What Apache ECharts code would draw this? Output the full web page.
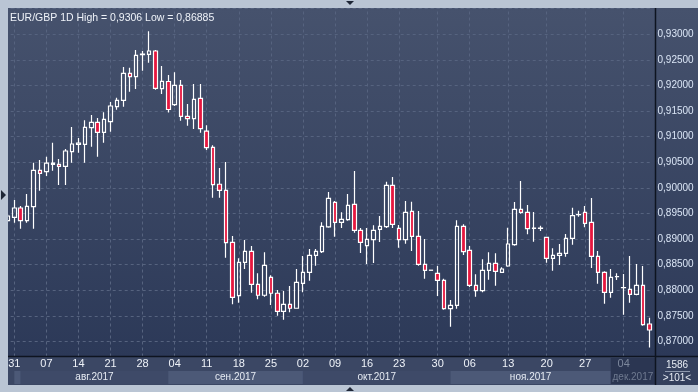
<!DOCTYPE html>
<html>
<head>
<meta charset="utf-8">
<script src="https://cdn.jsdelivr.net/npm/echarts@6/dist/echarts.min.js"></script>
<style>
  html, body { margin: 0; padding: 0; background: #bac5d4; }
  #chart { width: 698px; height: 392px; }
</style>
</head>
<body>
<div id="chart"></div>
<script>
// EUR/GBP daily candles, 28.07.2017 - 08.12.2017 (Sunday candles appear after the DST switch)
const dates = ['28.07','31.07','01.08','02.08','03.08','04.08','07.08','08.08','09.08','10.08','11.08',
  '14.08','15.08','16.08','17.08','18.08','21.08','22.08','23.08','24.08','25.08','28.08','29.08','30.08','31.08',
  '01.09','04.09','05.09','06.09','07.09','08.09','11.09','12.09','13.09','14.09','15.09','18.09','19.09','20.09',
  '21.09','22.09','25.09','26.09','27.09','28.09','29.09','02.10','03.10','04.10','05.10','06.10','09.10','10.10',
  '11.10','12.10','13.10','16.10','17.10','18.10','19.10','20.10','23.10','24.10','25.10','26.10','27.10','29.10',
  '30.10','31.10','01.11','02.11','03.11','06.11','07.11','08.11','09.11','10.11','12.11','13.11','14.11','15.11',
  '16.11','17.11','19.11','20.11','21.11','22.11','23.11','24.11','26.11','27.11','28.11','29.11','30.11','01.12',
  '03.12','04.12','05.12','06.12','07.12','08.12'];

const opens = [
  0.89359, 0.89426, 0.89608, 0.89359, 0.89633, 0.90344, 0.90317, 0.90461, 0.90461, 0.90422,
  0.90707, 0.90852, 0.90852, 0.91176, 0.91281, 0.91086, 0.91293, 0.91586, 0.91711, 0.92238,
  0.92172, 0.92602, 0.92609, 0.92674, 0.91938, 0.92078, 0.91625, 0.92004, 0.91399, 0.91352,
  0.91750, 0.91111, 0.90793, 0.90071, 0.89953, 0.88938, 0.87895, 0.88547, 0.88762, 0.88117,
  0.87903, 0.88254, 0.87942, 0.87590, 0.87727, 0.87649, 0.88137, 0.88352, 0.88684, 0.88754,
  0.89237, 0.89719, 0.89328, 0.89379, 0.89680, 0.89172, 0.88871, 0.88988, 0.89191, 0.89242,
  0.90051, 0.89211, 0.88988, 0.89543, 0.89055, 0.88508, 0.88391, 0.88332, 0.88195, 0.87641,
  0.87707, 0.89250, 0.88781, 0.88098, 0.87992, 0.88391, 0.88527, 0.88352, 0.88475, 0.88891,
  0.89582, 0.89524, 0.89211, 0.89211, 0.89035, 0.88625, 0.88684, 0.88723, 0.89016, 0.89477,
  0.89524, 0.89328, 0.88664, 0.88352, 0.87961, 0.88266, 0.88051, 0.88020, 0.87922, 0.88098,
  0.87342
];
const closes = [
  0.89451, 0.89608, 0.89359, 0.89641, 0.90344, 0.90285, 0.90486, 0.90486, 0.90422, 0.90721,
  0.90858, 0.90877, 0.91184, 0.91281, 0.91086, 0.91340, 0.91600, 0.91711, 0.92238, 0.92172,
  0.92590, 0.92615, 0.92674, 0.91945, 0.92082, 0.91531, 0.92004, 0.91399, 0.91352, 0.91731,
  0.91156, 0.90785, 0.90063, 0.89953, 0.88930, 0.87863, 0.88547, 0.88762, 0.88117, 0.87903,
  0.88488, 0.87942, 0.87590, 0.87727, 0.87649, 0.88156, 0.88352, 0.88684, 0.88762, 0.89250,
  0.89797, 0.89328, 0.89387, 0.89660, 0.89172, 0.88938, 0.88996, 0.89172, 0.89250, 0.90051,
  0.89289, 0.88988, 0.89524, 0.89055, 0.88508, 0.88391, 0.88393, 0.88195, 0.87641, 0.87707,
  0.89250, 0.88754, 0.88098, 0.87992, 0.88391, 0.88527, 0.88371, 0.88416, 0.88904, 0.89582,
  0.89524, 0.89203, 0.89213, 0.89213, 0.88625, 0.88684, 0.88723, 0.89016, 0.89457, 0.89479,
  0.89309, 0.88664, 0.88352, 0.87961, 0.88254, 0.88268, 0.88053, 0.87922, 0.88098, 0.87328,
  0.87225
];
const lows = [
  0.89334, 0.89320, 0.89203, 0.89320, 0.89203, 0.89945, 0.90233, 0.90336, 0.90057, 0.90057,
  0.90492, 0.90688, 0.90492, 0.90805, 0.90610, 0.90883, 0.91098, 0.91527, 0.91586, 0.91879,
  0.91932, 0.92289, 0.92445, 0.91918, 0.91834, 0.91473, 0.91600, 0.91313, 0.91215, 0.91151,
  0.91078, 0.90740, 0.89809, 0.89809, 0.88637, 0.87727, 0.87758, 0.88416, 0.87953, 0.87824,
  0.87875, 0.87713, 0.87504, 0.87426, 0.87571, 0.87649, 0.87961, 0.88188, 0.88481, 0.88729,
  0.89223, 0.89047, 0.89217, 0.89359, 0.89125, 0.88729, 0.88514, 0.88533, 0.88943, 0.89217,
  0.89217, 0.88832, 0.88910, 0.88768, 0.88481, 0.88227, 0.88391, 0.87889, 0.87621, 0.87289,
  0.87641, 0.88690, 0.88065, 0.87875, 0.87961, 0.88207, 0.88090, 0.88352, 0.88461, 0.88871,
  0.89496, 0.89094, 0.88949, 0.89158, 0.88539, 0.88383, 0.88494, 0.88656, 0.88891, 0.89438,
  0.89231, 0.88436, 0.88129, 0.87738, 0.87856, 0.88201, 0.87524, 0.87758, 0.87903, 0.87309,
  0.86885
];
const highs = [
  0.89490, 0.89764, 0.89647, 0.89881, 0.90492, 0.90545, 0.90610, 0.90883, 0.90565, 0.90760,
  0.91190, 0.90975, 0.91320, 0.91424, 0.91365, 0.91477, 0.91678, 0.91762, 0.92361, 0.92348,
  0.92693, 0.92674, 0.93060, 0.92693, 0.92381, 0.92205, 0.92258, 0.92108, 0.91639, 0.92029,
  0.92029, 0.91223, 0.90832, 0.90389, 0.90506, 0.89061, 0.88625, 0.88983, 0.88865, 0.88332,
  0.88742, 0.88293, 0.88006, 0.87987, 0.88084, 0.88416, 0.88670, 0.88807, 0.88807, 0.89328,
  0.89920, 0.89744, 0.89524, 0.89881, 0.90330, 0.89217, 0.89217, 0.89270, 0.89451, 0.90121,
  0.90213, 0.89276, 0.89744, 0.89731, 0.89549, 0.89002, 0.88393, 0.88475, 0.88227, 0.87811,
  0.89367, 0.89289, 0.88865, 0.88313, 0.88606, 0.88742, 0.88723, 0.88449, 0.89223, 0.89725,
  0.90135, 0.89666, 0.89529, 0.89262, 0.89035, 0.88820, 0.88904, 0.89100, 0.89613, 0.89555,
  0.89647, 0.89803, 0.88768, 0.88371, 0.88416, 0.88332, 0.88319, 0.88670, 0.88514, 0.88475,
  0.87465
];

// week starts that get a day label and a vertical grid line
const labelDays = ['31.07','07.08','14.08','21.08','28.08','04.09','11.09','18.09','25.09','02.10',
  '09.10','16.10','23.10','30.10','06.11','13.11','20.11','27.11','04.12'];
// month bands under the day labels: first candle of each month
const monthStarts = ['31.07','01.08','01.09','02.10','01.11','01.12'];
const monthNames = ['', 'авг.2017', 'сен.2017', 'окт.2017', 'ноя.2017', 'дек.2017'];

const titleText = 'EUR/GBP 1D High = 0,9306 Low = 0,86885';
const lastPrice = 0.87225;
const priceLabelTop = 0.93; // highest price label shown on the axis
const barsTotal = '1586';
const barsShown = '>101<';

const FONT = 'Liberation Sans';
const frameColor = '#bac5d4';
const gridColor = '#56637f';
const fmt = v => v.toFixed(5).replace('.', ',');

const chart = echarts.init(document.getElementById('chart'));

const plotFill = new echarts.graphic.LinearGradient(0, 0, 0, 1, [
  { offset: 0, color: '#46526d' },
  { offset: 1, color: '#2c3958' }
]);

const option = {
  animation: false,
  backgroundColor: frameColor,
  title: {
    text: titleText,
    left: 5,
    top: 8,
    textStyle: { color: '#eef2f8', fontSize: 10.5, fontWeight: 'normal', fontFamily: FONT }
  },
  grid: {
    left: 4.7,
    right: 45.5,
    top: 8,
    bottom: 35.5,
    outerBoundsMode: 'none'
  },
  xAxis: {
    type: 'category',
    data: dates,
    boundaryGap: true,
    axisLine: { show: false },
    axisTick: { show: false },
    splitLine: { show: false },
    axisLabel: {
      interval: (i, v) => labelDays.includes(v),
      formatter: v => v.slice(0, 2),
      color: v => (v === '04.12' ? '#7c879c' : '#eef2f8'),
      fontSize: 11,
      fontFamily: FONT,
      margin: 2
    }
  },
  yAxis: {
    type: 'value',
    position: 'right',
    offset: 3,
    min: 0.86707,
    max: 0.93514,
    splitNumber: 14,
    axisLine: { show: false },
    axisTick: { show: false },
    axisLabel: {
      formatter: v => (v > priceLabelTop + 0.0001 ? '' : fmt(v)),
      color: '#dbe6f6',
      fontSize: 10,
      fontFamily: FONT,
      margin: 2,
      showMinLabel: false,
      showMaxLabel: false
    },
    splitLine: { lineStyle: { color: gridColor, type: [3, 3], width: 1 } }
  },
  series: [{
    type: 'candlestick',
    data: dates.map((d, i) => [opens[i], closes[i], lows[i], highs[i]]),
    barWidth: 4,
    itemStyle: {
      color: 'rgba(0,0,0,0)',
      color0: '#e6173f',
      borderColor: '#ffffff',
      borderColor0: '#ffffff',
      borderWidth: 1.2
    },
    markLine: {
      silent: true,
      symbol: 'none',
      z: 1,
      animation: false,
      label: { show: false },
      lineStyle: { color: gridColor, type: [3, 3], width: 1 },
      data: labelDays.map(d => ({ xAxis: d })).concat([{
        yAxis: lastPrice,
        lineStyle: { opacity: 0 },
        label: {
          show: true,
          position: 'end',
          distance: 5,
          formatter: fmt(lastPrice),
          color: '#1f2838',
          fontSize: 10,
          fontFamily: FONT,
          backgroundColor: '#c8cdd5',
          borderColor: '#8f99a8',
          borderWidth: 1,
          padding: [1, 2, 0, 2]
        }
      }])
    }
  }]
};

chart.setOption(option);

// panels, month bands, frame
const px = d => chart.convertToPixel({ xAxisIndex: 0 }, d);
const bands = [];
monthStarts.forEach((d, i) => {
  const x0 = px(d);
  const x1 = i < monthStarts.length - 1 ? px(monthStarts[i + 1]) : 655;
  const last = i === monthStarts.length - 1;
  bands.push({
    type: 'rect', z: -9,
    shape: last ? { x: x0, y: 358, width: x1 - x0, height: 26 } : { x: x0, y: 371, width: x1 - x0, height: 13 },
    style: { fill: last ? '#2b3652' : (i % 2 === 0 ? '#4c5977' : '#3e4a68') }
  });
  if (monthNames[i]) {
    bands.push({
      type: 'text', z: -8,
      style: {
        text: monthNames[i], x: (x0 + x1) / 2, y: 377.5, align: 'center', verticalAlign: 'middle',
        fill: last ? '#6f7a90' : '#e6ebf3', font: '10px ' + FONT
      }
    });
  }
});

chart.setOption({
  graphic: [
    { type: 'rect', z: -10, shape: { x: 8, y: 8, width: 648, height: 349 }, style: { fill: plotFill } },
    { type: 'rect', z: -10, shape: { x: 656, y: 8, width: 42, height: 349 }, style: { fill: plotFill } },
    { type: 'rect', z: -10, shape: { x: 8, y: 357, width: 648, height: 28 }, style: { fill: '#3b4764' } },
    { type: 'rect', z: -10, shape: { x: 656, y: 357, width: 42, height: 28 }, style: { fill: '#34405d' } },
    ...bands,
    { type: 'rect', z: 10, shape: { x: 0, y: 0, width: 8, height: 392 }, style: { fill: frameColor } },
    { type: 'line', z: 5, shape: { x1: 8, y1: 356.5, x2: 698, y2: 356.5 }, style: { stroke: '#0e1420', lineWidth: 1.5 } },
    { type: 'line', z: 5, shape: { x1: 655.5, y1: 8, x2: 655.5, y2: 385 }, style: { stroke: '#0e1420', lineWidth: 1.5 } },
    { type: 'text', z: 5, style: { text: barsTotal, x: 677, y: 365, align: 'center', verticalAlign: 'middle', fill: '#e6ebf3', font: '10px ' + FONT } },
    { type: 'line', z: 5, shape: { x1: 665, y1: 371.5, x2: 690, y2: 371.5 }, style: { stroke: '#8d98ad', lineWidth: 1 } },
    { type: 'text', z: 5, style: { text: barsShown, x: 677, y: 378, align: 'center', verticalAlign: 'middle', fill: '#e6ebf3', font: '10px ' + FONT } },
    { type: 'polygon', z: 11, shape: { points: [[346, 1], [354, 1], [350, 5]] }, style: { fill: '#1e2636' } },
    { type: 'polygon', z: 11, shape: { points: [[346, 391], [354, 391], [350, 387]] }, style: { fill: '#1e2636' } },
    { type: 'polygon', z: 11, shape: { points: [[1, 190], [1, 200], [6, 195]] }, style: { fill: '#1e2636' } }
  ]
});
</script>
</body>
</html>
